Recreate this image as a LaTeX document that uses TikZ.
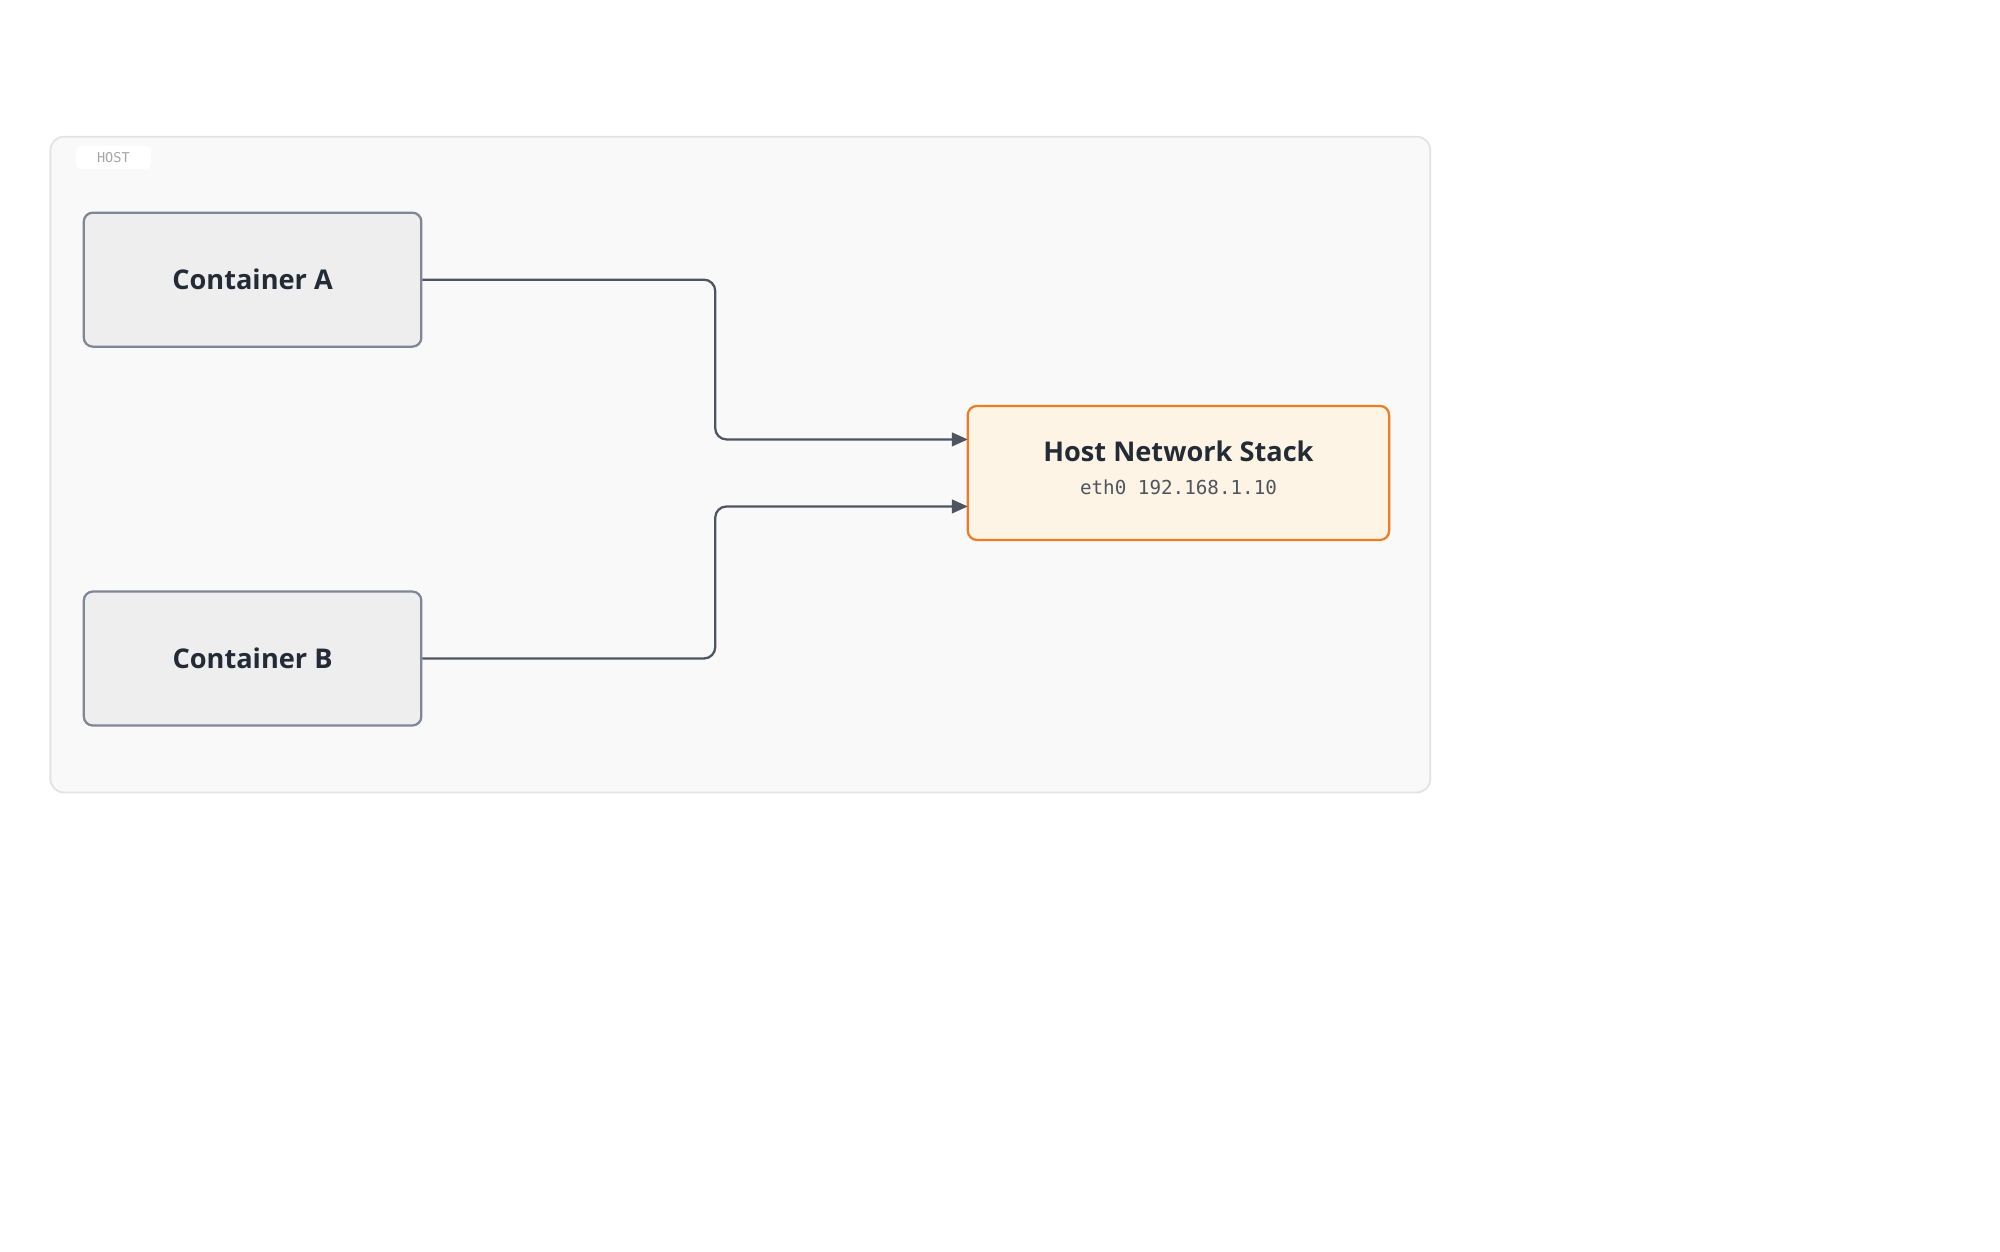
\documentclass[tikz,border=0pt]{standalone}
\usepackage{fontspec}
\setmainfont{Open Sans}
\newfontfamily\monof{DejaVu Sans Mono}
\usetikzlibrary{arrows.meta}
\definecolor{frameb}{HTML}{E3E3E3}
\definecolor{framef}{HTML}{F9F9F9}
\definecolor{boxf}{HTML}{EEEEEE}
\definecolor{boxb}{HTML}{7F8794}
\definecolor{hostf}{HTML}{FEF4E5}
\definecolor{hostb}{HTML}{EE7D22}
\definecolor{txt}{HTML}{222B36}
\definecolor{edge}{HTML}{4F5560}
\tikzset{
 px/.style={x=0.02cm,y=-0.02cm},
 box/.style={draw=boxb,fill=boxf,line width=1pt,rounded corners=4pt,minimum width=5.24cm,minimum height=2.08cm,inner sep=0pt,font=\bfseries\fontsize{12}{14}\selectfont,text=txt},
 hostbox/.style={draw=hostb,fill=hostf,line width=1pt,rounded corners=4pt,minimum width=6.54cm,minimum height=2.08cm,inner sep=0pt,text=txt,align=center},
 conn/.style={draw=edge,line width=1pt,rounded corners=5pt,-{Triangle[length=7pt,width=6pt]}}
}
\begin{document}
\begin{tikzpicture}[px]
\useasboundingbox[fill=white] (0,0) rectangle (1552,971);
\node[draw=frameb,fill=framef,line width=0.8pt,rounded corners=6pt,minimum width=21.42cm,minimum height=10.18cm,inner sep=0pt] (frame) at (574.5,360.5) {};
\node[fill=white,rounded corners=2pt,minimum width=1.16cm,minimum height=0.36cm,inner sep=0pt,font=\monof\fontsize{6}{7}\selectfont,text=gray!70] (lbl) at (88,122) {HOST};
\node[box] (a) at (196,217) {Container A};
\node[box] (b) at (196,511) {Container B};
\node[hostbox] (h) at (914.5,367) {};
\node[font=\bfseries\fontsize{12}{14}\selectfont,text=txt] (ht) at (914.5,350) {Host Network Stack};
\node[font=\monof\fontsize{8.5}{10}\selectfont,text=txt!80] (hs) at (914.5,378) {eth0 192.168.1.10};
\coordinate (ta) at (751,341);
\coordinate (tb) at (751,393);
\draw[conn] (a.east) -- (555,217) -- (555,341) -- (ta);
\draw[conn] (b.east) -- (555,511) -- (555,393) -- (tb);
\end{tikzpicture}
\end{document}
